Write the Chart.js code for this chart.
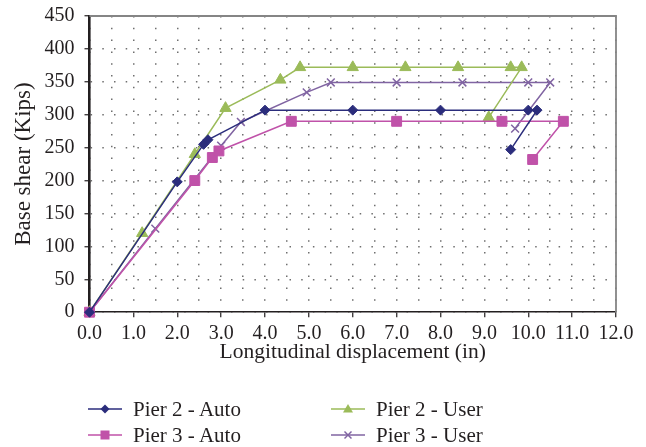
<!DOCTYPE html>
<html lang="en">
<head>
  <meta charset="UTF-8" />
  <title>Base shear vs longitudinal displacement</title>
  <script src="https://cdn.jsdelivr.net/npm/chart.js"></script>
  <style>
    html, body { margin: 0; padding: 0; background: #fff; }
    #wrap { position: relative; width: 646px; height: 447px; }
    canvas { position: absolute; left: 0; top: 0; }
    .leg { position: absolute; font-family: "Liberation Serif", serif; font-size: 21px; color: #231f20; display: flex; align-items: center; white-space: nowrap; }
    .leg svg { margin-right: 11px; }
  </style>
</head>
<body>
  <div id="wrap">
    <canvas id="chart" width="646" height="447"></canvas>
    <div class="leg" style="left:88px; top:396px;"><svg width="34" height="26" id="l0"></svg>Pier 2 - Auto</div>
    <div class="leg" style="left:331px; top:396px;"><svg width="34" height="26" id="l2"></svg>Pier 2 - User</div>
    <div class="leg" style="left:88px; top:422px;"><svg width="34" height="26" id="l1"></svg>Pier 3 - Auto</div>
    <div class="leg" style="left:331px; top:422px;"><svg width="34" height="26" id="l3"></svg>Pier 3 - User</div>
  </div>

  <script>
    // values: displacement (in) and base shear (kips)
    const pier2AutoX = [0, 2.0, 2.6, 2.7, 4.0, 6.0, 8.0, 10.0, 10.2, 9.6];
    const pier2AutoY = [0, 198, 255, 262, 307, 307, 307, 307, 307, 247];
    const pier3AutoX = [0, 2.4, 2.8, 2.95, 4.6, 7.0, 9.4, 10.8, 10.1];
    const pier3AutoY = [0, 200, 235, 245, 290, 290, 290, 290, 232];
    const pier2UserX = [0, 1.2, 2.4, 3.1, 4.35, 4.8, 6.0, 7.2, 8.4, 9.6, 9.85, 9.1];
    const pier2UserY = [0, 120, 240, 310, 353, 372, 372, 372, 372, 372, 372, 296];
    const pier3UserX = [0, 1.5, 3.0, 3.45, 4.95, 5.5, 7.0, 8.5, 10.0, 10.5, 9.7];
    const pier3UserY = [0, 127, 253, 289, 334, 349, 349, 349, 349, 349, 279];

    const seriesNames = ["Pier 2 - Auto", "Pier 3 - Auto", "Pier 2 - User", "Pier 3 - User"];
    const xMax = 12, yMax = 450;

    const pts = (xs, ys) => xs.map((x, i) => ({ x: x, y: ys[i] }));
    const font = "'Liberation Serif', serif";
    const ink = "#231f20";
    const dotGrey = "#6f6f6f";

    const styles = [
      { color: "#2b2d7c", point: "rectRot", r: 5 },
      { color: "#c052a9", point: "rect", r: 7 },
      { color: "#9bbb59", point: "triangle", r: 6.5 },
      { color: "#8064a2", point: "crossRot", r: 5.5 }
    ];
    const data = [pts(pier2AutoX, pier2AutoY), pts(pier3AutoX, pier3AutoY), pts(pier2UserX, pier2UserY), pts(pier3UserX, pier3UserY)];

    // grey frame on the top and right of the plot area
    const frame = {
      id: "frame",
      beforeDatasetsDraw(chart) {
        const a = chart.chartArea, c = chart.ctx;
        c.save();
        c.strokeStyle = "#858585";
        c.lineWidth = 1.8;
        c.beginPath();
        c.moveTo(a.left, a.top);
        c.lineTo(a.right, a.top);
        c.lineTo(a.right, a.bottom);
        c.stroke();
        c.restore();
      }
    };

    new Chart(document.getElementById("chart"), {
      type: "scatter",
      data: {
        datasets: data.map((d, i) => ({
          label: seriesNames[i],
          data: d,
          showLine: true,
          borderColor: styles[i].color,
          backgroundColor: styles[i].color,
          borderWidth: 1.5,
          pointStyle: styles[i].point,
          pointRadius: styles[i].r,
          pointBorderWidth: styles[i].point === "crossRot" ? 1.5 : 1,
          pointHoverRadius: styles[i].r,
          clip: false
        }))
      },
      options: {
        responsive: false,
        animation: false,
        layout: { padding: { left: 0, right: 30, top: 16, bottom: 82 } },
        plugins: { legend: { display: false }, tooltip: { enabled: false } },
        scales: {
          x: {
            type: "linear", min: 0, max: xMax,
            afterFit: s => { s.height = 52.8; },
            ticks: {
              stepSize: 0.5, autoSkip: false, maxRotation: 0, padding: 5,
              color: ink, font: { family: font, size: 20 },
              callback: v => (v % 1 === 0 ? v.toFixed(1) : "")
            },
            grid: {
              color: dotGrey, lineWidth: 1.5, tickLength: 5,
              tickColor: ctx => (ctx.tick && ctx.tick.value % 1 === 0 ? ink : "rgba(0,0,0,0)"),
              tickWidth: 1.2
            },
            border: { color: ink, width: 1.6, dash: [1.5, 10.3] },
            title: { display: true, text: "Longitudinal displacement (in)", color: ink, font: { family: font, size: 21.5 }, padding: 0 }
          },
          y: {
            min: 0, max: yMax,
            afterFit: s => { s.width = 89.5; s.paddingTop = 0; s.paddingBottom = 0; },
            ticks: { stepSize: 50, padding: 10, color: ink, font: { family: font, size: 20 } },
            grid: { color: dotGrey, lineWidth: 1.5, tickLength: 5, tickColor: ink, tickWidth: 1.2 },
            border: { color: ink, width: 2.6, dash: [1.5, 10.2] },
            title: { display: true, text: "Base shear (Kips)", color: ink, font: { family: font, size: 23 }, padding: { top: 10, bottom: 0 } }
          }
        }
      },
      plugins: [frame]
    });

    // legend samples: short line with the series marker in the middle
    const ns = "http://www.w3.org/2000/svg";
    styles.forEach((s, i) => {
      const svg = document.getElementById("l" + i);
      const add = (tag, attrs) => {
        const el = document.createElementNS(ns, tag);
        for (const k in attrs) el.setAttribute(k, attrs[k]);
        svg.appendChild(el);
      };
      add("line", { x1: 0, y1: 13, x2: 34, y2: 13, stroke: s.color, "stroke-width": 1.6 });
      if (s.point === "rectRot") add("polygon", { points: "17,8.5 21.5,13 17,17.5 12.5,13", fill: s.color });
      if (s.point === "rect") add("rect", { x: 12.5, y: 8.5, width: 9, height: 9, fill: s.color });
      if (s.point === "triangle") add("polygon", { points: "17,8 22,16.5 12,16.5", fill: s.color });
      if (s.point === "crossRot") {
        add("line", { x1: 13.5, y1: 9.5, x2: 20.5, y2: 16.5, stroke: s.color, "stroke-width": 1.5 });
        add("line", { x1: 20.5, y1: 9.5, x2: 13.5, y2: 16.5, stroke: s.color, "stroke-width": 1.5 });
      }
    });
  </script>
</body>
</html>
